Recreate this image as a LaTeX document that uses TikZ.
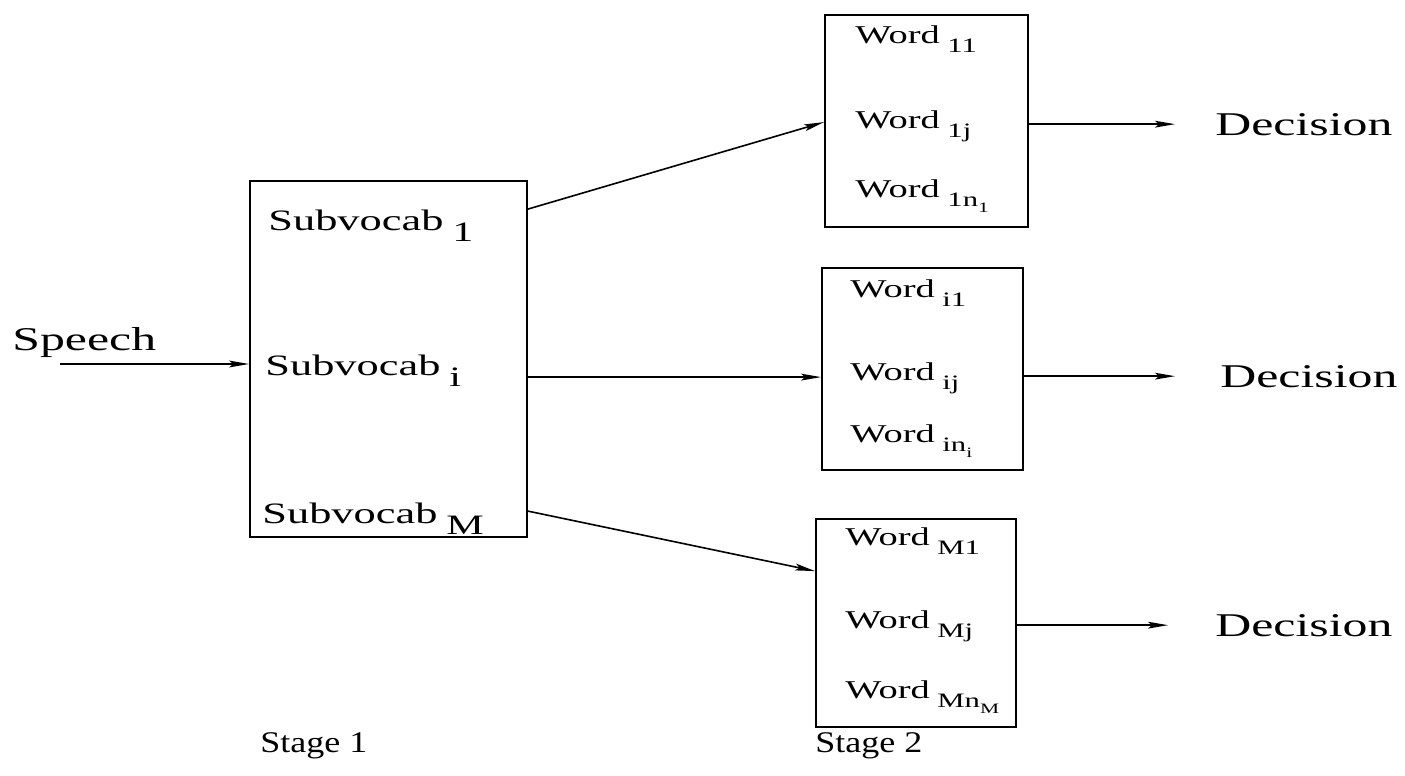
\documentclass[tikz,border=0pt]{standalone}
\usepackage{fontspec}
\setmainfont{Liberation Serif}[FakeStretch=1.5]
\newfontfamily\stagefont{Liberation Serif}[FakeStretch=1.2]
\usetikzlibrary{arrows.meta}

% lowered index set beside a label, roughly at label size
\newcommand\lowsub[2][0.8]{\hspace{0.3em}\raisebox{-0.38em}{\scalebox{#1}{#2}}}
\newcommand\innersub[1]{\raisebox{-0.3em}{\scalebox{0.7}{#1}}}

\tikzset{
  blk/.style={draw, line width=0.9pt, rectangle, inner sep=0pt},
  lbl/.style={anchor=base west, inner sep=0pt},
  biglbl/.style={lbl, font=\fontsize{16.6}{18}\selectfont},
  sublbl/.style={lbl, font=\fontsize{14.8}{16}\selectfont},
  wordlbl/.style={lbl, font=\fontsize{12.8}{14}\selectfont},
  stagelbl/.style={lbl, font=\stagefont\fontsize{15}{17}\selectfont},
  arr/.style={line width=0.8pt, -{Stealth[length=10pt,width=3.4pt,inset=2pt]}},
}

\begin{document}
\begin{tikzpicture}[x=0.5pt, y=-0.5pt]
\useasboundingbox (0,0) rectangle (1405,776);

% first stage: sub-vocabulary selection
\node[blk, minimum width=138.5pt, minimum height=178pt] (stage) at (388.5,359) {};
\node[sublbl] (sv1) at (268,230) {Subvocab\lowsub[0.95]{1}};
\node[sublbl] (svi) at (265,375) {Subvocab\lowsub[0.95]{i}};
\node[sublbl] (svM) at (262,523) {Subvocab\lowsub[0.95]{M}};

% second stage: word recognition within each sub-vocabulary
\node[blk, minimum width=101.5pt, minimum height=106pt] (b1) at (926.5,121) {};
\node[wordlbl] (w11) at (855,43)  {Word\lowsub{11}};
\node[wordlbl] (w1j) at (855,128) {Word\lowsub{1j}};
\node[wordlbl] (w1n) at (855,197) {Word\lowsub{1n\innersub{1}}};

\node[blk, minimum width=100.5pt, minimum height=101pt] (b2) at (922.5,369) {};
\node[wordlbl] (wi1) at (850,297) {Word\lowsub{i1}};
\node[wordlbl] (wij) at (850,380) {Word\lowsub{ij}};
\node[wordlbl] (win) at (850,442) {Word\lowsub{in\innersub{i}}};

\node[blk, minimum width=100pt, minimum height=104pt] (b3) at (916,623) {};
\node[wordlbl] (wM1) at (845,545) {Word\lowsub{M1}};
\node[wordlbl] (wMj) at (845,628) {Word\lowsub{Mj}};
\node[wordlbl] (wMn) at (845,698) {Word\lowsub{Mn\innersub{M}}};

% input and outputs
\node[biglbl] (speech) at (12,350) {Speech};
\node[biglbl] (d1) at (1215,135) {Decision};
\node[biglbl] (d2) at (1220,387) {Decision};
\node[biglbl] (d3) at (1215,636) {Decision};

\node[stagelbl] (st1) at (260,752) {Stage 1};
\node[stagelbl] (st2) at (815,752) {Stage 2};

% connectors
\coordinate (src) at (60,364);
\draw[arr] (src) -- ([yshift=-2.5pt]stage.west);
\draw[arr] ([yshift=-14.5pt]stage.north east) -- ([yshift=-54pt]b1.north west);
\draw[arr] ([yshift=-98.5pt]stage.north east) -- ([yshift=-55pt]b2.north west);
\draw[arr] ([yshift=-165.5pt]stage.north east) -- ([yshift=-26.5pt]b3.north west);

\draw[arr, shorten >=20pt] (b1.east |- d1.west) -- (d1.west);
\draw[arr, shorten >=22.5pt] (b2.east |- d2.west) -- (d2.west);
\draw[arr, shorten >=23.5pt] (b3.east |- d3.west) -- (d3.west);
\end{tikzpicture}
\end{document}
